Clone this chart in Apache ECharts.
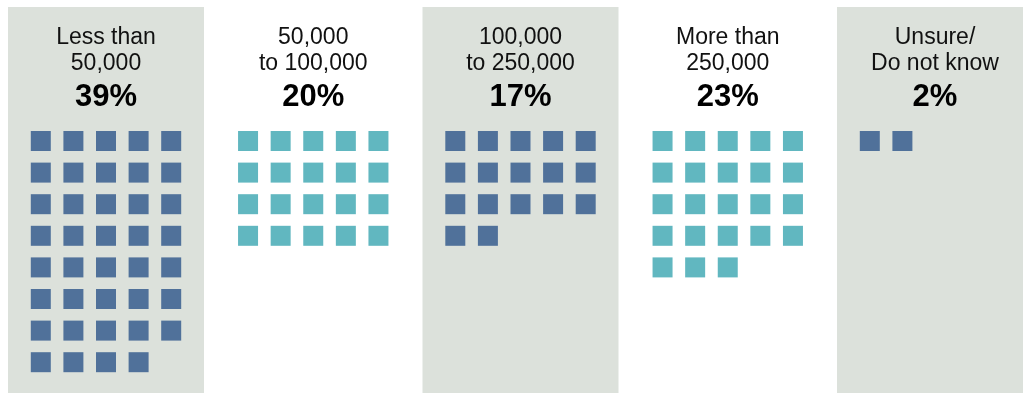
<!DOCTYPE html>
<html>
<head>
<meta charset="utf-8">
<script src="https://cdn.jsdelivr.net/npm/echarts@6/dist/echarts.min.js"></script>
<style>
html,body{margin:0;padding:0;background:#ffffff;}
#chart{width:1023px;height:393px;}
</style>
</head>
<body>
<div id="chart"></div>
<script>
// ---- data ----
var categories = ['Less than\n50,000', '50,000\nto 100,000', '100,000\nto 250,000', 'More than\n250,000', 'Unsure/\nDo not know'];
var shares = [39, 20, 17, 23, 2];            // percent, one square per percent
var shaded = [true, false, true, false, true];

// ---- style / layout constants ----
var DARK = '#50719a', TEAL = '#61b7c0', PANEL_BG = '#dce1db';
var PANEL_PITCH = 207.25, PANEL_W = 196, FIRST_PANEL_LEFT = 8;
var COLS = 5, COL_PITCH = 32.6 / PANEL_PITCH;   // in panel units
var ROW_PITCH = 31.6, FIRST_ROW_Y = 141;        // px
var H = 393, W = 1023;

var gridLeft = FIRST_PANEL_LEFT - (PANEL_PITCH - PANEL_W) / 2;
var xMax = (W - gridLeft) / PANEL_PITCH;
var yMin = -FIRST_ROW_Y / ROW_PITCH, yMax = (H - FIRST_ROW_Y) / ROW_PITCH;
function pxToRow(px) { return (px - FIRST_ROW_Y) / ROW_PITCH; }

var squares = [];
shares.forEach(function (n, i) {
  var color = shaded[i] ? DARK : TEAL;
  for (var k = 0; k < n; k++) {
    var col = k % COLS, row = Math.floor(k / COLS);
    squares.push({ value: [i + 0.5 + (col - (COLS - 1) / 2) * COL_PITCH, row], itemStyle: { color: color, opacity: 1 } });
  }
});

var panels = [];
shaded.forEach(function (s, i) { if (s) panels.push([i]); });

var titleData = categories.map(function (c, i) { return { value: [i + 0.5, pxToRow(50.6)], name: c }; });
var pctData = shares.map(function (v, i) { return { value: [i + 0.5, pxToRow(97.5)], name: v + '%' }; });

var chart = echarts.init(document.getElementById('chart'), null, { renderer: 'canvas' });
chart.setOption({
  animation: false,
  backgroundColor: '#ffffff',
  grid: { left: gridLeft, right: 0, top: 0, bottom: 0, containLabel: false },
  xAxis: { type: 'value', min: 0, max: xMax, show: false },
  yAxis: { type: 'value', min: yMin, max: yMax, inverse: true, show: false },
  series: [
    {
      type: 'custom',
      data: panels,
      silent: true,
      z: 0,
      renderItem: function (params, api) {
        var i = api.value(0);
        var hw = PANEL_W / PANEL_PITCH / 2;
        var p1 = api.coord([i + 0.5 - hw, pxToRow(7)]);
        var p2 = api.coord([i + 0.5 + hw, yMax]);
        return { type: 'rect', shape: { x: p1[0], y: p1[1], width: p2[0] - p1[0], height: p2[1] - p1[1] }, style: { fill: PANEL_BG } };
      }
    },
    {
      type: 'scatter',
      symbol: 'rect',
      symbolSize: 20,
      itemStyle: { opacity: 1 },
      data: squares,
      z: 2
    },
    {
      type: 'scatter',
      symbolSize: 0,
      itemStyle: { opacity: 1 },
      data: titleData,
      z: 3,
      label: {
        show: true, position: 'inside', formatter: '{b}', opacity: 1,
        fontFamily: 'Liberation Sans, Arial, sans-serif', fontSize: 23, lineHeight: 25.4,
        color: '#111111', align: 'center', verticalAlign: 'middle'
      }
    },
    {
      type: 'scatter',
      symbolSize: 0,
      itemStyle: { opacity: 1 },
      data: pctData,
      z: 3,
      label: {
        show: true, position: 'inside', formatter: '{b}', opacity: 1,
        fontFamily: 'Liberation Sans, Arial, sans-serif', fontSize: 31, fontWeight: 'bold',
        color: '#000000', align: 'center', verticalAlign: 'middle'
      }
    }
  ]
});
</script>
</body>
</html>
